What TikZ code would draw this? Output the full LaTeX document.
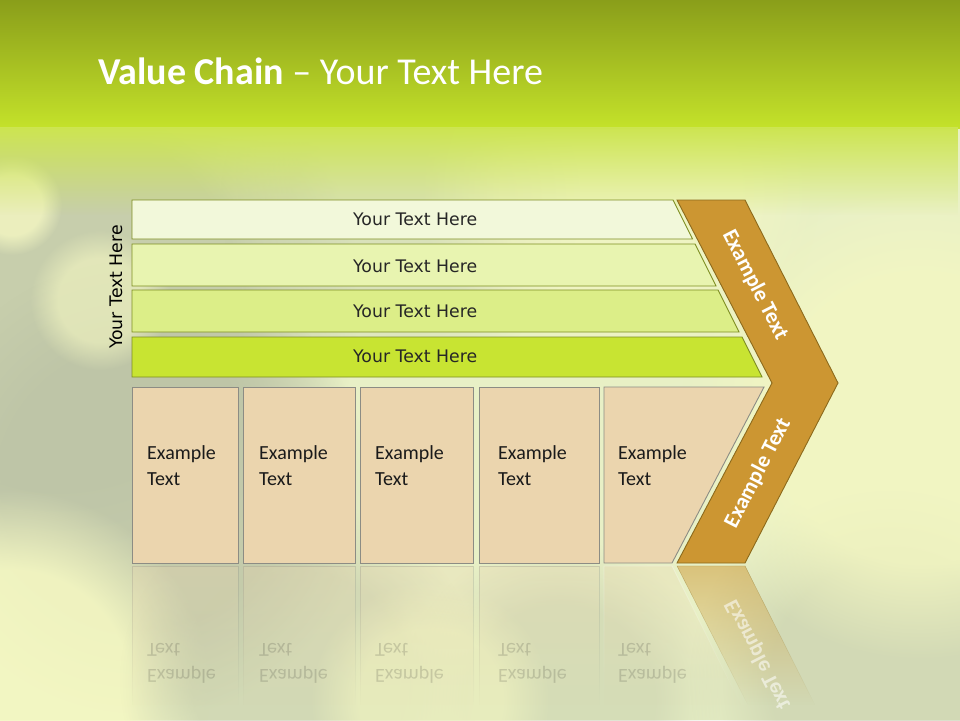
\documentclass[tikz,border=0pt]{standalone}
\usepackage{fontspec}
\setmainfont{Carlito}
\newfontfamily\dvs{DejaVu Sans}
\usetikzlibrary{fadings}

\definecolor{bgpale}{HTML}{E8F0C6}
\definecolor{topdark}{HTML}{8A9E1A}
\definecolor{toplime}{HTML}{C4E22A}
\definecolor{bokehgrey}{HTML}{C4CBAA}
\definecolor{bokehdark}{HTML}{BCC3A6}
\definecolor{bokehyel}{HTML}{F4F7C2}
\definecolor{barA}{HTML}{F2F8DA}
\definecolor{barB}{HTML}{E8F4B0}
\definecolor{barC}{HTML}{DCEE88}
\definecolor{barD}{HTML}{C8E432}
\definecolor{barline}{HTML}{7E8E22}
\definecolor{bartxt}{HTML}{262626}
\definecolor{boxfill}{HTML}{EBD5AE}
\definecolor{boxline}{HTML}{8C8C84}
\definecolor{boxtxt}{HTML}{1A1A1A}
\definecolor{chevfill}{HTML}{CC9632}
\definecolor{chevline}{HTML}{8C6A1C}

\pgfdeclareradialshading{softdiscshade}{\pgfpoint{0bp}{0bp}}{color(0bp)=(white); color(15bp)=(white); color(25bp)=(black); color(50bp)=(black)}
\pgfdeclarefading{softdisc}{\pgfuseshading{softdiscshade}}

\tikzset{
  barbox/.style={draw=barline, line width=0.9pt},
  bartext/.style={font=\dvs\fontsize{17.3}{20}\selectfont, text=bartxt, anchor=base west, inner sep=0pt},
  lowbox/.style={draw=boxline, fill=boxfill, line width=0.9pt},
  lowtext/.style={font=\fontsize{20}{26}\selectfont, text=boxtxt, anchor=base west, inner sep=0pt},
  chevbox/.style={draw=chevline, fill=chevfill, line width=0.9pt},
  chevtext/.style={font=\bfseries\fontsize{22}{26}\selectfont, text=white, inner sep=0pt},
  reflbox/.style={draw=boxline, fill=boxfill, opacity=0.3, line width=0.9pt, path fading=south},
  refltext/.style={font=\fontsize{20}{26}\selectfont, text=boxtxt, anchor=base west, inner sep=0pt, opacity=0.16, transform shape},
  bokeh/.style={path fading=softdisc},
}

\begin{document}
\begin{tikzpicture}[x=1pt,y=-1pt]
\useasboundingbox (0,0) rectangle (960,720);
% ---------- background ----------
\fill[bgpale] (0,0) rectangle (960,720);
\fill[bokehgrey, opacity=0.9, bokeh] (60,300) circle (300);
\fill[bokehdark, opacity=0.8, bokeh] (140,490) circle (230);
\fill[bokehyel, opacity=0.9, bokeh] (10,690) circle (200);
\fill[bokehyel, opacity=0.8, bokeh] (12,205) circle (50);
\fill[bokehyel, opacity=0.6, bokeh] (100,300) circle (70);
\fill[bokehgrey, opacity=0.6, bokeh] (300,680) circle (180);
\fill[bokehgrey, opacity=0.5, bokeh] (560,700) circle (160);
\fill[bokehgrey, opacity=0.6, bokeh] (890,680) circle (200);
\fill[bokehyel, opacity=0.8, bokeh] (920,420) circle (240);
\fill[bokehgrey, opacity=0.4, bokeh] (400,200) circle (180);
\fill[bokehyel, opacity=0.6, bokeh] (620,190) circle (200);
\fill[bokehyel, opacity=0.6, bokeh] (430,700) circle (120);
% top band
\shade[top color=topdark, bottom color=toplime] (0,0) rectangle (960,128);
\fill[toplime!75!bgpale, path fading=south] (0,127.5) rectangle (960,215);

% ---------- title ----------
\node[anchor=base west, inner sep=0pt, text=white, font=\fontsize{38}{42}\selectfont]
  (title) at (98,84) {\textbf{Value Chain} -- Your Text Here};

% ---------- vertical label ----------
\node[rotate=90, inner sep=0pt, font=\dvs\fontsize{17.3}{20}\selectfont, text=black]
  (vlabel) at (116,287) {Your Text Here};

% ---------- bars ----------
\path[barbox, fill=barA] (132,200) -- (673,200) -- (692.5,239) -- (132,239) -- cycle;
\path[barbox, fill=barB] (132,244) -- (695,244) -- (716,286) -- (132,286) -- cycle;
\path[barbox, fill=barC] (132,290) -- (718,290) -- (739,332) -- (132,332) -- cycle;
\path[barbox, fill=barD] (132,337) -- (742,337) -- (762,377) -- (132,377) -- cycle;
\node[bartext] (b1) at (353,225) {Your Text Here};
\node[bartext] (b2) at (353,272.5) {Your Text Here};
\node[bartext] (b3) at (353,317.5) {Your Text Here};
\node[bartext] (b4) at (353,362) {Your Text Here};

% ---------- chevron ----------
\path[chevbox] (677,200) -- (745,200) -- (838,383) -- (745,563) -- (677,563) -- (772,383) -- cycle;
\node[chevtext, rotate=-62.8] (c1) at (755,285) {Example Text};
\node[chevtext, rotate=62.8] (c2) at (758,473) {Example Text};

% ---------- lower boxes ----------
\path[lowbox] (132,387) rectangle (238,563);
\path[lowbox] (243,387) rectangle (355,563);
\path[lowbox] (360,387) rectangle (473,563);
\path[lowbox] (479,387) rectangle (599,563);
\path[lowbox] (604,387) -- (764,387) -- (672,563) -- (604,563) -- cycle;
\node[lowtext, align=left] (e1) at (147,485) {Example\\Text};
\node[lowtext, align=left] (e2) at (259,485) {Example\\Text};
\node[lowtext, align=left] (e3) at (375,485) {Example\\Text};
\node[lowtext, align=left] (e4) at (498,485) {Example\\Text};
\node[lowtext, align=left] (e5) at (618,485) {Example\\Text};

% ---------- reflection ----------
\path[reflbox] (132,566) rectangle (238,705);
\path[reflbox] (243,566) rectangle (355,705);
\path[reflbox] (360,566) rectangle (473,705);
\path[reflbox] (479,566) rectangle (599,705);
\path[reflbox, draw=white] (604,566) -- (672,566) -- (741,705) -- (604,705) -- cycle;
\path[draw=chevline, fill=chevfill, opacity=0.5, path fading=south] (677,566) -- (745,566) -- (815,705) -- (748,705) -- cycle;
\begin{scope}[shift={(0,1128)}, yscale=-1]
  \node[refltext] (r1a) at (147,459) {Example};
  \node[refltext] (r1b) at (147,485) {Text};
  \node[refltext] (r2a) at (259,459) {Example};
  \node[refltext] (r2b) at (259,485) {Text};
  \node[refltext] (r3a) at (375,459) {Example};
  \node[refltext] (r3b) at (375,485) {Text};
  \node[refltext] (r4a) at (498,459) {Example};
  \node[refltext] (r4b) at (498,485) {Text};
  \node[refltext] (r5a) at (618,459) {Example};
  \node[refltext] (r5b) at (618,485) {Text};
  \begin{scope}
    \clip (600,563) rectangle (960,420);
    \node[chevtext, rotate=62.8, transform shape, opacity=0.55] (rc) at (758,473) {Example Text};
  \end{scope}
\end{scope}
\end{tikzpicture}
\end{document}
